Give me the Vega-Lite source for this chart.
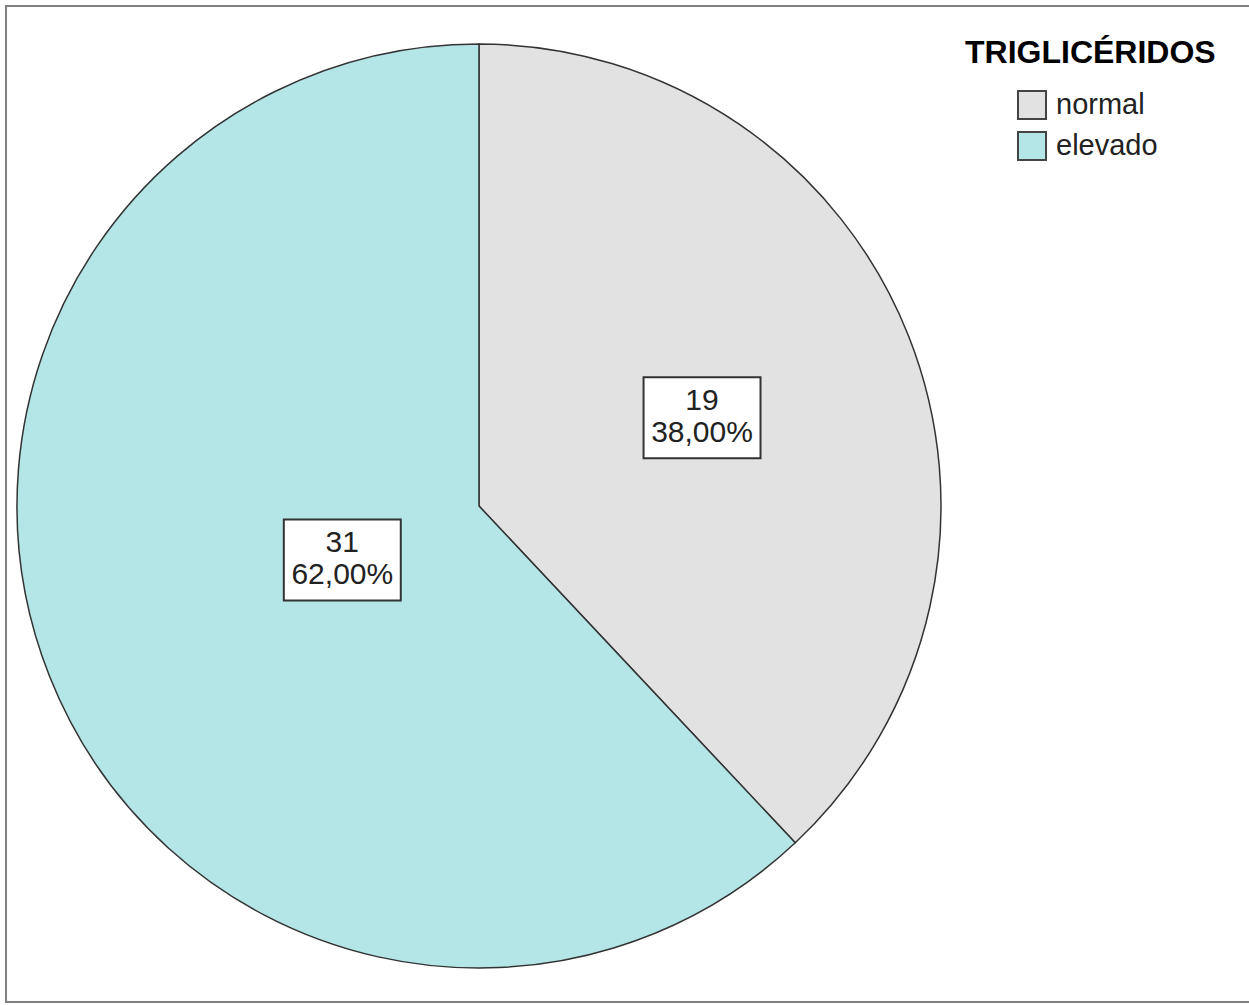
{
  "$schema": "https://vega.github.io/schema/vega-lite/v6.json",
  "autosize": {"type": "fit", "contains": "padding"},
  "width": 1249,
  "height": 1005,
  "padding": {"left": 6, "top": 6, "right": -2, "bottom": 3},
  "background": "white",
  "config": {
    "view": {"stroke": "#808080", "strokeWidth": 2},
    "font": "Liberation Sans",
    "locale": {"number": {"decimal": ",", "thousands": ".", "grouping": [3], "currency": ["", " €"]}}
  },
  "data": {
    "values": [
      {"categoria": "normal", "n": 19, "orden": 1},
      {"categoria": "elevado", "n": 31, "orden": 2}
    ]
  },
  "layer": [
    {
      "mark": {"type": "arc", "outerRadius": 462, "stroke": "#333333", "strokeWidth": 1.5},
      "encoding": {
        "theta": {"field": "n", "type": "quantitative", "stack": true},
        "order": {"field": "orden", "type": "quantitative"},
        "color": {
          "field": "categoria",
          "type": "nominal",
          "scale": {"domain": ["normal", "elevado"], "range": ["#e2e2e2", "#b4e6e8"]},
          "legend": {
            "orient": "none",
            "legendX": 959,
            "legendY": 32,
            "title": "TRIGLICÉRIDOS",
            "titleFont": "Liberation Sans",
            "titleFontSize": 32,
            "titleFontWeight": "bold",
            "titleColor": "#000000",
            "titlePadding": 20,
            "titleLimit": 400,
            "symbolType": "square",
            "symbolSize": 784,
            "symbolStrokeColor": "#444444",
            "symbolStrokeWidth": 2,
            "symbolOffset": 52,
            "labelOffset": 9,
            "labelFont": "Liberation Sans",
            "labelFontSize": 29,
            "labelColor": "#222222",
            "labelLimit": 300,
            "rowPadding": 5,
            "padding": 0
          }
        },
        "x": {"datum": 0, "type": "quantitative", "scale": {"domain": [-1.02381, 1.671], "zero": false, "nice": false}, "axis": null},
        "y": {"datum": 0, "type": "quantitative", "scale": {"domain": [-1.07359, 1.08225], "zero": false, "nice": false}, "axis": null}
      }
    },
    {
      "transform": [
        {"stack": "n", "groupby": [], "sort": [{"field": "orden", "order": "ascending"}], "as": ["s0", "s1"]},
        {"joinaggregate": [{"op": "sum", "field": "n", "as": "total"}]},
        {"calculate": "(datum.s0 + datum.s1) / datum.total * PI", "as": "medio"},
        {"calculate": "datum.n / datum.total * PI", "as": "semi"},
        {"calculate": "2 * sin(datum.semi) / (3 * datum.semi)", "as": "dist"},
        {"calculate": "datum.dist * sin(datum.medio)", "as": "cx"},
        {"calculate": "datum.dist * cos(datum.medio)", "as": "cy"},
        {"calculate": "datum.n / datum.total", "as": "pct"}
      ],
      "encoding": {
        "x": {"field": "cx", "type": "quantitative"},
        "y": {"field": "cy", "type": "quantitative"}
      },
      "layer": [
        {
          "mark": {"type": "point", "shape": "M-1.444,-1H1.444V1H-1.444Z", "size": 6561, "filled": true, "fill": "white", "stroke": "#333333", "strokeWidth": 2, "opacity": 1}
        },
        {
          "mark": {"type": "text", "font": "Liberation Sans", "fontSize": 30, "color": "#222222", "align": "center", "baseline": "middle", "dy": -17},
          "encoding": {"text": {"field": "n", "type": "quantitative", "format": "d"}}
        },
        {
          "mark": {"type": "text", "font": "Liberation Sans", "fontSize": 30, "color": "#222222", "align": "center", "baseline": "middle", "dy": 15},
          "encoding": {"text": {"field": "pct", "type": "quantitative", "format": ".2%"}}
        }
      ]
    }
  ]
}
